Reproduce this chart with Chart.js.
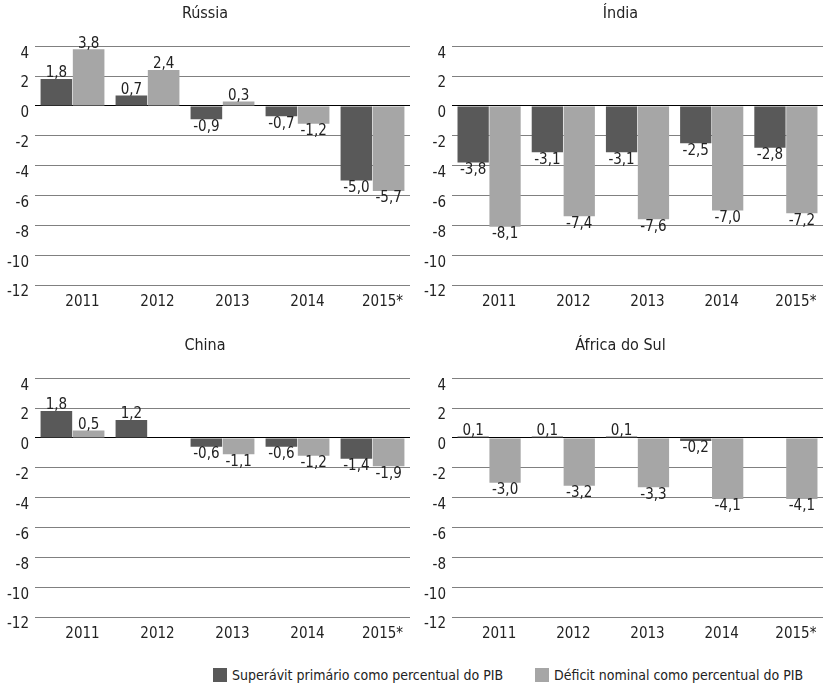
<!DOCTYPE html>
<html>
<head>
<meta charset="utf-8">
<script src="https://cdn.jsdelivr.net/npm/chart.js@4.4.1/dist/chart.umd.min.js"></script>
<style>
  body { margin: 0; background: #fff; width: 825px; height: 693px; position: relative; overflow: hidden;
         font-family: "DejaVu Sans Condensed", sans-serif; }
  .box { position: absolute; }
  .legend { position: absolute; top: 667px; font-size: 14px; color: #222; white-space: nowrap; }
  .legend span.sw { display: inline-block; width: 14px; height: 14px; vertical-align: -2px; margin-right: 5px; }
</style>
</head>
<body>
<div class="box" style="left:0;top:0;width:412px;height:309px"><canvas id="c1"></canvas></div>
<div class="box" style="left:418px;top:0;width:407px;height:309px"><canvas id="c2"></canvas></div>
<div class="box" style="left:0;top:332px;width:412px;height:309px"><canvas id="c3"></canvas></div>
<div class="box" style="left:418px;top:332px;width:407px;height:309px"><canvas id="c4"></canvas></div>
<div class="legend" style="left:213px"><span class="sw" style="background:#595959"></span>Superávit primário como percentual do PIB</div>
<div class="legend" style="left:535px"><span class="sw" style="background:#a6a6a6"></span>Déficit nominal como percentual do PIB</div>
<script>
var anos = ['2011', '2012', '2013', '2014', '2015*'];
var yMin = -12, yMax = 4, yStep = 2;

var russiaPrimario = [1.8, 0.7, -0.9, -0.7, -5.0];
var russiaNominal  = [3.8, 2.4, 0.3, -1.2, -5.7];
var indiaPrimario  = [-3.8, -3.1, -3.1, -2.5, -2.8];
var indiaNominal   = [-8.1, -7.4, -7.6, -7.0, -7.2];
var chinaPrimario  = [1.8, 1.2, -0.6, -0.6, -1.4];
var chinaNominal   = [0.5, null, -1.1, -1.2, -1.9];
var africaPrimario = [0.1, 0.1, 0.1, -0.2, null];
var africaNominal  = [-3.0, -3.2, -3.3, -4.1, -4.1];

var fonte = '"DejaVu Sans Condensed", sans-serif';

// rótulos de valor acima/abaixo das barras
var rotulos = {
  id: 'rotulos',
  afterDatasetsDraw: function(chart) {
    var ctx = chart.ctx;
    ctx.save();
    ctx.font = '15px ' + fonte;
    ctx.fillStyle = '#222';
    ctx.textAlign = 'center';
    chart.data.datasets.forEach(function(ds, i) {
      chart.getDatasetMeta(i).data.forEach(function(bar, j) {
        var v = ds.data[j];
        if (v === null || v === undefined) return;
        var txt = v.toFixed(1).replace('.', ',');
        if (v >= 0) {
          ctx.textBaseline = 'bottom';
          ctx.fillText(txt, bar.x, bar.y + 2);
        } else {
          ctx.textBaseline = 'top';
          ctx.fillText(txt, bar.x, bar.y);
        }
      });
    });
    ctx.restore();
  }
};

function grafico(id, titulo, primario, nominal, yLeft) {
  return new Chart(document.getElementById(id), {
    type: 'bar',
    data: {
      labels: anos,
      datasets: [
        { label: 'Superávit primário como percentual do PIB', data: primario,
          backgroundColor: '#595959', borderWidth: 0 },
        { label: 'Déficit nominal como percentual do PIB', data: nominal,
          backgroundColor: '#a6a6a6', borderWidth: 0 }
      ]
    },
    options: {
      maintainAspectRatio: false,
      animation: false,
      categoryPercentage: 0.86,
      barPercentage: 0.98,
      layout: { padding: { left: 0, right: 2, top: 0, bottom: 0 } },
      plugins: {
        legend: { display: false },
        tooltip: { enabled: false },
        title: {
          display: true, text: titulo, color: '#222',
          font: { family: fonte, size: 16, weight: 'normal' },
          padding: { top: 4, bottom: 23 }
        }
      },
      scales: {
        x: {
          grid: { display: false },
          border: { display: false },
          ticks: { color: '#222', font: { family: fonte, size: 15 }, padding: 0, labelOffset: 10 },
          afterFit: function(s) { s.height = 24; }
        },
        y: {
          min: yMin, max: yMax,
          grid: {
            drawTicks: false,
            color: function(c) { return c.tick && c.tick.value === 0 ? '#000' : '#808080'; },
            lineWidth: 1
          },
          border: { display: false },
          ticks: { stepSize: yStep, color: '#222', font: { family: fonte, size: 15 }, padding: 6,
                   align: 'start', crossAlign: 'near' },
          afterFit: function(s) { s.width = yLeft; }
        }
      }
    },
    plugins: [rotulos]
  });
}

grafico('c1', 'Rússia', russiaPrimario, russiaNominal, 35);
grafico('c2', 'Índia', indiaPrimario, indiaNominal, 34);
grafico('c3', 'China', chinaPrimario, chinaNominal, 35);
grafico('c4', 'África do Sul', africaPrimario, africaNominal, 34);
</script>
</body>
</html>
